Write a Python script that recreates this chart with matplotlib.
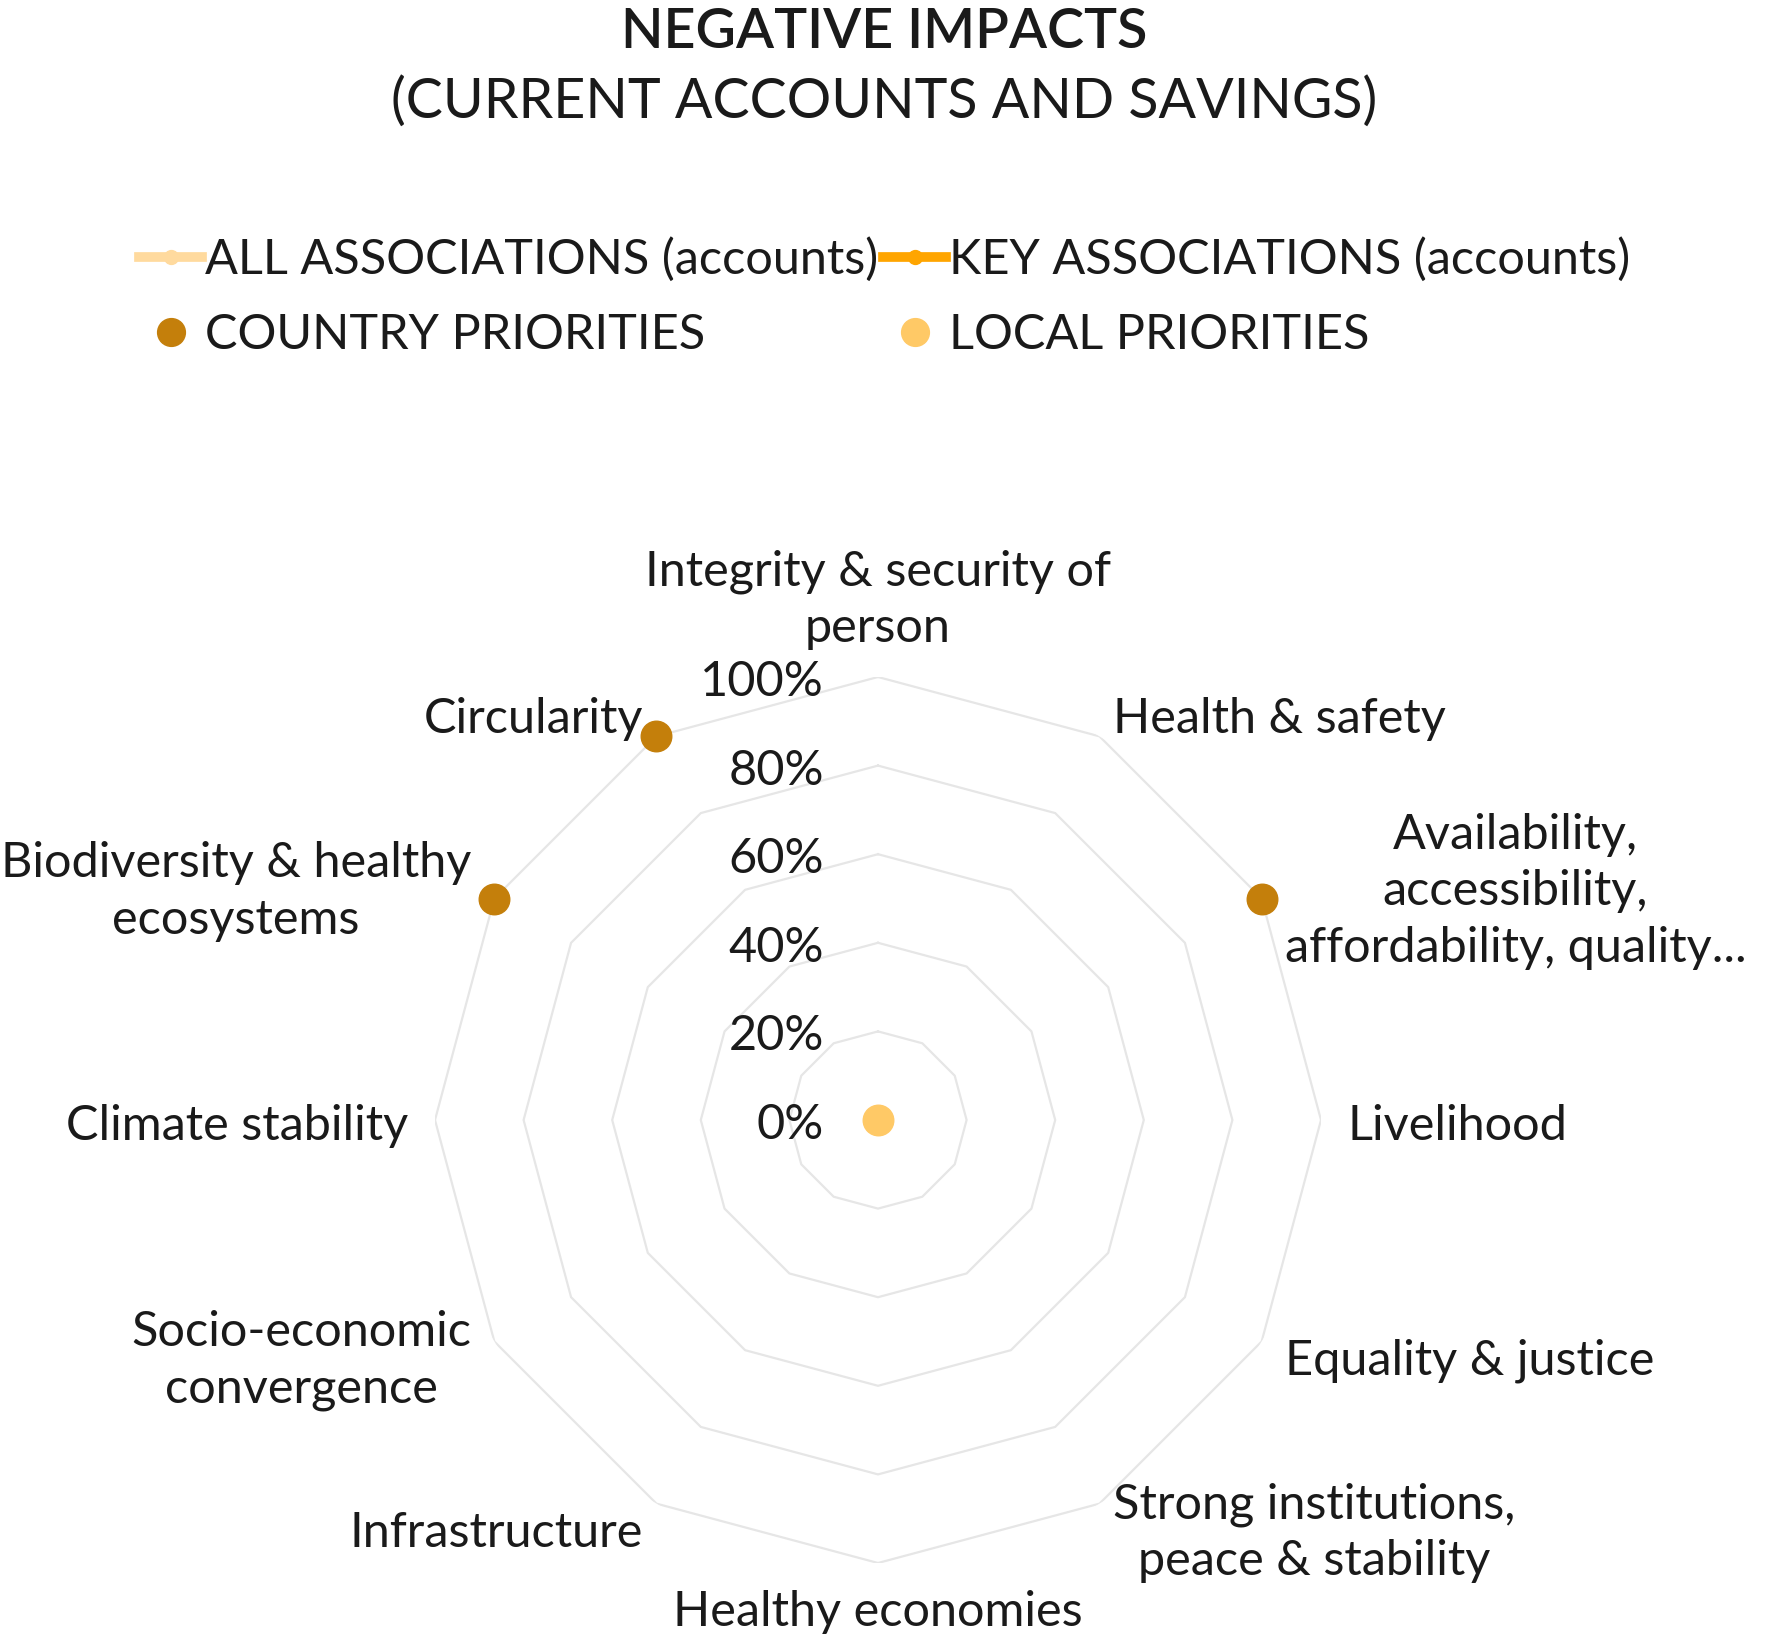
#!/usr/bin/env python3
"""Radar chart: negative impacts (current accounts and savings)."""

import matplotlib

matplotlib.use("Agg")
import matplotlib.pyplot as plt
import numpy as np
from matplotlib.lines import Line2D

plt.rcParams["font.family"] = ["Lato", "DejaVu Sans"]

# カテゴリ（上から時計回り）
categories = [
    "Integrity & security of\nperson",
    "Health & safety",
    "Availability,\naccessibility,\naffordability, quality...",
    "Livelihood",
    "Equality & justice",
    "Strong institutions,\npeace & stability",
    "Healthy economies",
    "Infrastructure",
    "Socio-economic\nconvergence",
    "Climate stability",
    "Biodiversity & healthy\necosystems",
    "Circularity",
]

all_associations = [0, 0, 0, 0, 0, 0, 0, 0, 0, 0, 0, 0]
key_associations = [0, 0, 0, 0, 0, 0, 0, 0, 0, 0, 0, 0]
country_priorities = [None, None, 100, None, None, None, None, None, None, None, 100, 100]
local_priorities = [0, None, None, None, None, None, None, None, None, None, None, None]

tick_values = [0, 20, 40, 60, 80, 100]
tick_labels = ["0%", "20%", "40%", "60%", "80%", "100%"]

C_ALL = "#ffda9e"
C_KEY = "#ffa500"
C_COUNTRY = "#c47f0b"
C_LOCAL = "#ffc966"
C_GRID = "#e6e6e6"
C_TEXT = "#1a1a1a"

FS = 35


def to_arr(vals):
    return np.array([np.nan if v is None else v for v in vals], dtype=float)


fig = plt.figure(figsize=(17.69, 16.42), dpi=100)

cx, cy = 878 / 1769, 1 - 1120 / 1642
rw, rh = 443 / 1769, 443 / 1642
ax = fig.add_axes([cx - rw, cy - rh, 2 * rw, 2 * rh], projection="polar")
ax.set_theta_offset(np.pi / 2)
ax.set_theta_direction(-1)
ax.set_ylim(0, 100)
ax.axis("off")

n = len(categories)
angles = np.arange(n) * 2 * np.pi / n
closed = np.append(angles, angles[0])

# 多角形グリッド
for v in tick_values[1:]:
    ax.plot(closed, [v] * (n + 1), color=C_GRID, lw=1.6, zorder=1)

# 目盛りラベル
for v, lab in zip(tick_values, tick_labels):
    ax.annotate(lab, xy=(0, v), xytext=(-54, -5), textcoords="offset pixels",
                ha="right", va="center", fontsize=FS, color=C_TEXT, zorder=5)

# カテゴリラベル
for a, lab in zip(angles, categories):
    s = np.sin(a)
    if abs(s) < 1e-6:
        ha = "center"
        va = "bottom" if np.cos(a) > 0 else "top"
        dy = 0
    else:
        ha = "left" if s > 0 else "right"
        va = "center"
        dy = -6
    ax.annotate(lab, xy=(a, 106), xytext=(0, dy), textcoords="offset pixels",
                ha=ha, va=va, multialignment="center", fontsize=FS,
                color=C_TEXT, linespacing=1.35, annotation_clip=False)

# データ系列
ax.plot(closed, np.append(to_arr(all_associations), all_associations[0]),
        color=C_ALL, lw=5, marker="o", ms=8, zorder=3)
ax.plot(closed, np.append(to_arr(key_associations), key_associations[0]),
        color=C_KEY, lw=5, marker="o", ms=8, zorder=3)
ax.plot(angles, to_arr(country_priorities), ls="none", marker="o", ms=22,
        color=C_COUNTRY, zorder=4, clip_on=False)
ax.plot(angles, to_arr(local_priorities), ls="none", marker="o", ms=22,
        color=C_LOCAL, zorder=4, clip_on=False)

# タイトル
fig.text(0.5, 1 - 32 / 1642, "NEGATIVE IMPACTS", ha="center", va="center",
         fontsize=40, fontweight="semibold", color=C_TEXT)
fig.text(0.5, 1 - 102 / 1642, "(CURRENT ACCOUNTS AND SAVINGS)", ha="center",
         va="center", fontsize=40, color=C_TEXT)

# 凡例
handles = [
    Line2D([], [], color=C_ALL, lw=7, marker="o", ms=10),
    Line2D([], [], color=C_COUNTRY, lw=0, marker="o", ms=20),
    Line2D([], [], color=C_KEY, lw=7, marker="o", ms=10),
    Line2D([], [], color=C_LOCAL, lw=0, marker="o", ms=20),
]
labels = ["ALL ASSOCIATIONS (accounts)", "COUNTRY PRIORITIES",
          "KEY ASSOCIATIONS (accounts)", "LOCAL PRIORITIES"]
fig.legend(handles, labels, loc="center", bbox_to_anchor=(0.5, 1 - 297 / 1642),
           ncol=2, frameon=False, fontsize=FS, handlelength=1.3,
           handletextpad=0.05, columnspacing=0.1, labelspacing=0.65,
           labelcolor=C_TEXT)

fig.savefig("out.png", dpi=100)
